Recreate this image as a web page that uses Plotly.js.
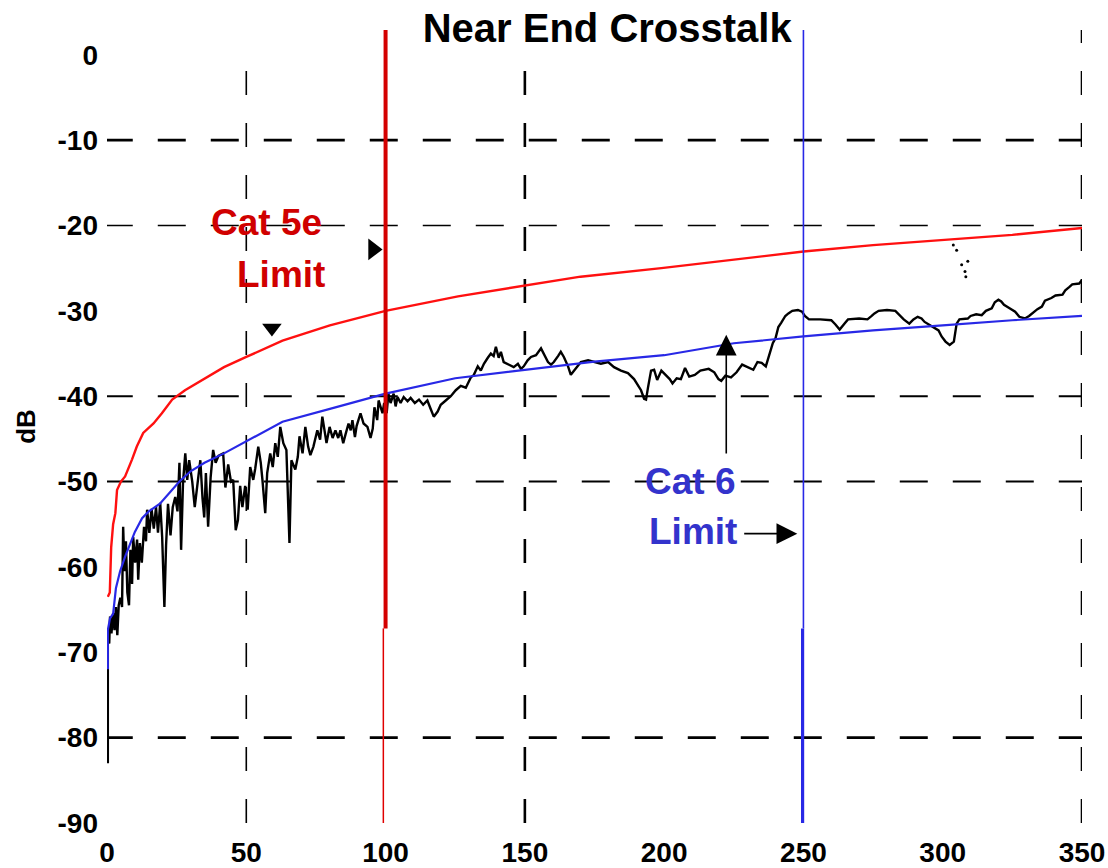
<!DOCTYPE html>
<html>
<head>
<meta charset="utf-8">
<script src="https://cdn.plot.ly/plotly-3.0.1.min.js"></script>
<style>
  html, body { margin: 0; padding: 0; background: #ffffff; }
  #chart { width: 1108px; height: 868px; }
</style>
</head>
<body>
<div id="chart"></div>
<script>
// ---------- data ----------
const chartTitle = 'Near End Crosstalk';
const yAxisTitle = 'dB';

const xTickValues = [0, 50, 100, 150, 200, 250, 300, 350];
const xTickLabels = ['0', '50', '100', '150', '200', '250', '300', '350'];
const yTickValues = [0, -10, -20, -30, -40, -50, -60, -70, -80, -90];
const yTickLabels = ['0', '-10', '-20', '-30', '-40', '-50', '-60', '-70', '-80', '-90'];

const verticalGridValues = [50, 150, 350];
const horizontalGridValues = [-10, -20, -40, -50, -80];

const cat5eLimitFreq = 100;
const cat6LimitFreq = 250;

// Cat 5e limit curve (MHz, dB)
const cat5eFreq = [0.3, 1.0, 1.5, 2.2, 3.0, 3.6, 5, 6.5, 9, 10.7, 13, 16.7, 19.7, 23.4, 28, 35, 42, 50, 63, 80, 100, 126, 150, 170, 199, 230, 250, 275, 300, 325, 350];
const cat5eDb   = [-63.5, -63, -57.7, -55, -53.7, -51, -50, -49.4, -47.4, -45.9, -44.3, -43.2, -42, -40.4, -39.3, -37.9, -36.6, -35.4, -33.5, -31.7, -30, -28.3, -27.0, -26.0, -25.0, -23.8, -23.05, -22.3, -21.7, -21.1, -20.3];

// Cat 6 limit curve (MHz, dB)
const cat6Freq = [0.3, 0.3, 1.1, 2.2, 3.2, 4.7, 6.5, 8, 10, 12.6, 15, 19, 22, 26, 30, 35, 42, 50, 63, 81, 100, 125, 150, 175, 200, 225, 250, 275, 300, 325, 350];
const cat6Db   = [-72, -67.4, -66, -65.5, -62.5, -60.5, -58.8, -57.5, -55.9, -54.3, -53.5, -52.6, -51.5, -50, -48.8, -47.8, -46.7, -45.3, -43, -41.4, -39.7, -37.9, -36.9, -35.95, -35.2, -33.8, -33, -32.3, -31.7, -31.1, -30.6];

// Measured NEXT (MHz, dB)
const measuredPairs = [
  [0.3,-83],[0.3,-67.4],[0.8,-69],[1.1,-65.8],[1.6,-67.8],[2.2,-65.4],[2.7,-67.4],[3.2,-64.7],[3.7,-68],[4.2,-64.5],
  [4.8,-63.6],[5.4,-64.7],[5.8,-55.3],[6.3,-60.5],[6.8,-57],[7.3,-63],[7.9,-64.5],[8.4,-58],[9,-62],[9.4,-56.5],
  [10.1,-59.5],[10.8,-56.8],[11.2,-61.5],[11.8,-57.2],[12.5,-59.5],[13.3,-55.3],[14,-57],[14.4,-53.3],[15.2,-56],[16,-53.2],
  [16.8,-55.5],[17.6,-53],[18.3,-56],[19.1,-52.5],[19.8,-56.5],[20.6,-64.7],[21.2,-57.5],[21.9,-52.6],[22.8,-56.3],[23.6,-53],
  [24.5,-51.8],[25.3,-53.5],[26,-47.8],[26.6,-58],[27.3,-50],[28.1,-46.7],[28.8,-49.8],[29.5,-47.5],[30.6,-50],[31.5,-53],
  [32.4,-50.5],[33.5,-47.5],[34.3,-52],[34.9,-54.2],[35.5,-49],[36.3,-55.3],[37.2,-49.5],[38.1,-46.3],[39,-47.8],[40,-47],
  [41.7,-46.7],[42.5,-50.7],[43.5,-48],[44.5,-50],[45.3,-49.8],[46.2,-55.7],[47,-54.5],[47.8,-50.5],[48.6,-53],[49.6,-50.5],
  [50.5,-53.3],[51.4,-48.3],[52.5,-49.8],[53.2,-48.5],[54.3,-45.9],[55.2,-47.8],[55.8,-49.8],[56.8,-53.7],[57.5,-49],[58.6,-46.7],
  [59.5,-48.3],[60.4,-45.5],[61.3,-47.1],[62.2,-43.6],[63.3,-45.5],[64.4,-46.3],[65.5,-57.2],[66.2,-47.5],[67.6,-48.6],[68.5,-47.1],
  [69.1,-44.7],[70.2,-46.7],[71.2,-43.6],[72.2,-45.9],[73,-46.9],[74.1,-45.9],[75.5,-44],[76.5,-45.1],[77.3,-42.4],[78,-44],
  [78.8,-45.5],[79.9,-43.6],[81,-44.9],[82,-44],[83,-44.9],[83.8,-44],[84.8,-45.5],[85.6,-44.5],[86.7,-43.2],[87.5,-44],
  [88.1,-42.8],[89,-44.8],[89.6,-43.5],[91,-42],[92.1,-43.2],[93.5,-43.6],[94.6,-44.9],[95.4,-43.8],[96,-41.3],[97,-42.8],
  [97.5,-40.5],[98.9,-42],[99.5,-40.8],[100.4,-42],[101,-39.7],[101.8,-40.8],[102.9,-39.7],[103.6,-41.2],[104.3,-40.1],[105.4,-40.8],
  [106.5,-40.1],[107.9,-40.6],[109,-40.2],[110.5,-40.8],[112,-40.4],[113.5,-41],[115,-40.5],[116.2,-41.5],[117.3,-42.4],[118.7,-41.8],
  [119.8,-41],[121.6,-40.5],[123.4,-40],[125.2,-39.3],[127,-38.8],[128.8,-39],[130.6,-37.8],[131.7,-37.5],[133.1,-36.5],[134.2,-37],
  [135.3,-36.2],[136.7,-35.5],[137.8,-35],[138.8,-35.3],[139.6,-34.2],[140.6,-35.5],[141.4,-34.8],[142.4,-36],[144.2,-36.3],[146,-36.6],
  [147.5,-36.2],[148.6,-36.8],[149.6,-36.5],[151,-35.8],[152.2,-35.4],[154,-35.2],[155.8,-34.4],[156.8,-35],[158.3,-36],[159.4,-36.3],
  [160.4,-36],[161.9,-35.3],[162.9,-34.8],[164,-35.4],[165.5,-36.5],[166.5,-37.5],[167.6,-37],[169,-36.5],[170.1,-36],[172.7,-35.8],
  [174.8,-36],[177.3,-36.2],[179.9,-36],[182,-36.6],[184.5,-37],[187,-37.3],[189.2,-38],[190.6,-38.7],[191.7,-39.3],[192.8,-40.3],
  [193.5,-40.4],[194.2,-39],[195.3,-37],[196.4,-36.9],[197.5,-38.1],[199,-37],[200.5,-37.5],[202,-38],[203,-38.5],[204.5,-37.9],
  [206,-38],[207.5,-36.7],[209,-37.7],[211,-37.5],[213,-37],[216,-36.8],[218,-37.2],[219.5,-38],[220.5,-38.2],[222,-37.6],
  [224,-37.8],[226,-37.2],[228,-36.3],[230.6,-36.7],[232,-36.9],[233.5,-36],[235,-36.1],[236.5,-36.5],[237.4,-35.5],[238,-35],
  [239,-33.8],[240,-33.2],[241,-31.9],[242,-31.4],[243.5,-30.6],[244.6,-30.3],[246,-30],[248,-29.9],[249.5,-30.1],[250.5,-30.6],
  [252,-31],[256,-31],[260,-31.1],[261.5,-31.6],[263,-32.2],[264.7,-31.5],[266,-31],[270,-30.9],[273,-31],[274.5,-30.6],
  [275.5,-30.3],[277,-30],[280,-29.9],[283,-30],[284.5,-30.5],[286,-31],[288,-31.5],[289.5,-31],[291,-30.7],[292.4,-30.9],
  [293.5,-31.3],[295,-31.6],[297,-31.9],[298.5,-32.3],[299.6,-33],[301,-33.6],[302.5,-34],[304,-33.6],[305,-31.5],[306,-31],
  [309,-30.9],[310,-30.6],[312,-30.4],[314,-30.5],[315.5,-30],[317.6,-29.7],[318.7,-29],[320,-28.7],[321,-28.9],[322,-29.3],
  [324,-29.7],[326,-30.1],[327.5,-30.7],[329.5,-30.9],[331,-30.6],[332.5,-30.2],[334,-29.8],[335.6,-29.5],[336.7,-28.8],[339,-28.5],
  [340.5,-28.2],[343,-28.1],[344,-27.6],[345.5,-27.2],[346.5,-26.9],[349,-26.8],[350,-26.4]
];

// stray scan specks above the trace near 305 MHz
const speckFreq = [303.8, 305, 306.8, 308, 308.3, 309];
const speckDb   = [-22.3, -22.9, -24.6, -25.4, -26, -24.2];

// pointer markers / arrows (MHz, dB)
const cat5eRightPointer = {f: 95.5, db: -22.8};
const cat5eDownPointer  = {f: 59.2, db: -32.0};
const cat6UpArrow   = {f: 222.3, tipDb: -32.8, tailDb: -46.9};
const cat6SideArrow = {tailF: 228.2, tipF: 247.8, db: -56.1};

// label positions (MHz, dB)
const labels = [
  {text: 'Cat 5e', f: 57.4, db: -19.7, color: '#d00000'},
  {text: 'Limit',  f: 62.5, db: -25.7, color: '#d00000'},
  {text: 'Cat 6',  f: 209.3, db: -50.0, color: '#3333cc'},
  {text: 'Limit',  f: 210.4, db: -55.8, color: '#3333cc'}
];

// ---------- build figure ----------
const FONT = 'Liberation Sans, Arial, Helvetica, sans-serif';
const yTop = 2.9;

const traces = [
  {
    x: measuredPairs.map(p => p[0]), y: measuredPairs.map(p => p[1]),
    type: 'scatter', mode: 'lines', line: {color: '#000000', width: 2.4},
    hoverinfo: 'skip'
  },
  {
    x: cat6Freq, y: cat6Db, type: 'scatter', mode: 'lines',
    line: {color: '#2828e6', width: 2.2}, hoverinfo: 'skip'
  },
  {
    x: cat5eFreq, y: cat5eDb, type: 'scatter', mode: 'lines',
    line: {color: '#ff1010', width: 2.4}, hoverinfo: 'skip'
  },
  {
    x: speckFreq, y: speckDb, type: 'scatter', mode: 'markers',
    marker: {color: '#000000', size: 3}, hoverinfo: 'skip'
  },
  {
    x: [cat5eRightPointer.f], y: [cat5eRightPointer.db], type: 'scatter', mode: 'markers',
    marker: {symbol: 'triangle-right', color: '#000000', size: 19}, hoverinfo: 'skip'
  },
  {
    x: [cat5eDownPointer.f], y: [cat5eDownPointer.db], type: 'scatter', mode: 'markers',
    marker: {symbol: 'triangle-down', color: '#000000', size: 17}, hoverinfo: 'skip'
  }
];

const shapes = [];
verticalGridValues.forEach(v => {
  shapes.push({
    type: 'line', xref: 'x', yref: 'y', x0: v, x1: v,
    y0: -90, y1: v === 350 ? yTop : 0, layer: 'below',
    line: {color: '#000000', width: v === 50 ? 1.6 : 2.6, dash: '24px,28px'}
  });
});
horizontalGridValues.forEach(v => {
  const w = (v === -10 || v === -80) ? 2.8 : (v === -20 ? 1.4 : 2);
  shapes.push({
    type: 'line', xref: 'x', yref: 'y', x0: -0.8, x1: 350, y0: v, y1: v, layer: 'below',
    line: {color: '#000000', width: w, dash: '28px,25px'}
  });
});
// Cat 5e frequency limit line at 100 MHz
shapes.push({type: 'line', xref: 'x', yref: 'y', x0: cat5eLimitFreq, x1: cat5eLimitFreq, y0: -67.2, y1: yTop,
  layer: 'above', line: {color: '#d40000', width: 4}});
shapes.push({type: 'line', xref: 'x', yref: 'y', x0: cat5eLimitFreq - 0.8, x1: cat5eLimitFreq - 0.8, y0: -90, y1: -67.2,
  layer: 'above', line: {color: '#e00000', width: 1.5}});
// Cat 6 frequency limit line at 250 MHz
shapes.push({type: 'line', xref: 'x', yref: 'y', x0: cat6LimitFreq, x1: cat6LimitFreq, y0: -67.2, y1: yTop,
  layer: 'above', line: {color: '#2828e6', width: 1.6}});
shapes.push({type: 'line', xref: 'x', yref: 'y', x0: cat6LimitFreq - 0.3, x1: cat6LimitFreq - 0.3, y0: -90, y1: -67.2,
  layer: 'above', line: {color: '#2828e6', width: 3.2}});

const annotations = labels.map(l => ({
  text: l.text, x: l.f, y: l.db, xref: 'x', yref: 'y', showarrow: false,
  xanchor: 'center', yanchor: 'middle',
  font: {family: FONT, size: 37, color: l.color, weight: 'bold'}
}));
annotations.push({
  text: '', x: cat6UpArrow.f, y: cat6UpArrow.tipDb, ax: cat6UpArrow.f, ay: cat6UpArrow.tailDb,
  xref: 'x', yref: 'y', axref: 'x', ayref: 'y', showarrow: true,
  arrowhead: 2, arrowsize: 2.6, arrowwidth: 1.6, arrowcolor: '#000000', standoff: 0, startstandoff: 0
});
annotations.push({
  text: '', x: cat6SideArrow.tipF, y: cat6SideArrow.db, ax: cat6SideArrow.tailF, ay: cat6SideArrow.db,
  xref: 'x', yref: 'y', axref: 'x', ayref: 'y', showarrow: true,
  arrowhead: 2, arrowsize: 2.6, arrowwidth: 1.6, arrowcolor: '#000000', standoff: 0, startstandoff: 0
});

const layout = {
  width: 1108, height: 868,
  margin: {l: 107, r: 26, t: 30, b: 45, pad: 0},
  paper_bgcolor: '#ffffff', plot_bgcolor: '#ffffff',
  showlegend: false,
  font: {family: FONT, color: '#000000'},
  title: {
    text: chartTitle, xref: 'container', yref: 'container', x: 0.548, y: 0.968,
    xanchor: 'center', yanchor: 'middle',
    font: {family: FONT, size: 40, color: '#000000', weight: 'bold'}
  },
  xaxis: {
    range: [0, 350], tickvals: xTickValues, ticktext: xTickLabels,
    showgrid: false, zeroline: false, showline: false, ticks: '',
    ticklabelstandoff: 10, automargin: false,
    tickfont: {family: FONT, size: 28, color: '#000000', weight: 'bold'}
  },
  yaxis: {
    range: [-90, yTop], tickvals: yTickValues, ticktext: yTickLabels,
    showgrid: false, zeroline: false, showline: false, ticks: '',
    ticklabelstandoff: 8, automargin: false,
    tickfont: {family: FONT, size: 28, color: '#000000', weight: 'bold'},
    title: {text: yAxisTitle, standoff: 14, font: {family: FONT, size: 26, color: '#000000', weight: 'bold'}}
  },
  shapes: shapes,
  annotations: annotations
};

Plotly.newPlot('chart', traces, layout, {staticPlot: true, displayModeBar: false});
</script>
</body>
</html>
